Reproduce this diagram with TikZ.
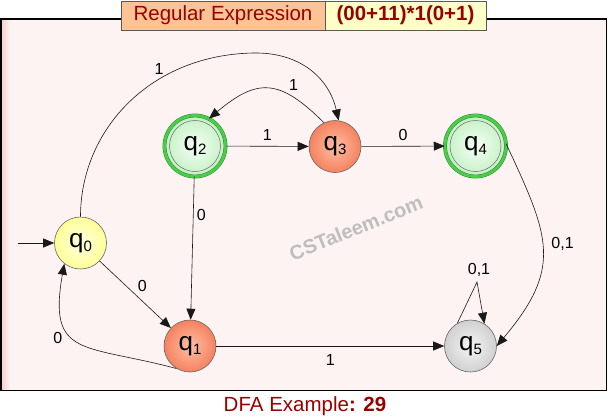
\documentclass[tikz,border=0pt]{standalone}
\usepackage{fontspec}
\setmainfont{Liberation Sans}
\usetikzlibrary{arrows.meta}
\definecolor{dred}{RGB}{153,0,0}
\definecolor{bgpink}{RGB}{253,243,243}
\definecolor{edgepink}{RGB}{250,205,205}
\definecolor{boxorange}{RGB}{252,196,148}
\definecolor{boxyellow}{RGB}{255,255,200}
\definecolor{ringgreen}{RGB}{75,205,75}
\definecolor{ringdark}{RGB}{40,140,40}
\definecolor{wmgrey}{RGB}{190,190,190}
\newcommand{\qsub}[1]{q\raisebox{-4pt}{\fontsize{15}{15}\selectfont #1}}
\tikzset{
  arr/.style={-{Triangle[length=11pt,width=9pt]}, line width=0.6pt, draw=black!90},
  statebox/.style={circle, minimum size=52pt, inner sep=0pt, draw=black!60, line width=0.6pt,
    font=\fontsize{26}{26}\selectfont},
  yellowst/.style={statebox, inner color={rgb,255:red,255;green,255;blue,225}, outer color={rgb,255:red,255;green,255;blue,150}},
  orangest/.style={statebox, inner color={rgb,255:red,255;green,190;blue,165}, outer color={rgb,255:red,244;green,130;blue,95}},
  greyst/.style={statebox, inner color={rgb,255:red,245;green,245;blue,245}, outer color={rgb,255:red,208;green,208;blue,208}},
  accst/.style={statebox, minimum size=61pt, draw=ringdark, double=ringgreen, double distance=2.8pt, line width=0.5pt,
    inner color={rgb,255:red,245;green,255;blue,245}, outer color={rgb,255:red,195;green,240;blue,195}},
  lbl/.style={font=\fontsize{16}{16}\selectfont, inner sep=1pt, text=black},
  titlebox/.style={draw=black!65, line width=0.8pt, minimum height=29pt, inner sep=0pt, text=dred,
    font=\fontsize{20.5}{20.5}\selectfont},
}
\begin{document}
\begin{tikzpicture}[x=1pt,y=-1pt]
\useasboundingbox (0,0) rectangle (608,418);
% frame
\fill[bgpink] (1,19) rectangle (606.5,390.5);
\shade[left color=edgepink, right color=bgpink] (1,19) rectangle (10,390.5);
\draw[line width=1.2pt] (1,19) rectangle (606.5,390.5);
% title
\node[titlebox, fill=boxorange, minimum width=204pt] (t1) at (223,15.5) {Regular Expression};
\node[titlebox, fill=boxyellow, minimum width=161pt, font=\fontsize{20.5}{20.5}\selectfont\bfseries] (t2) at (405.5,15.5) {(00+11)*1(0+1)};
% watermark
\node[text=wmgrey, font=\fontsize{20}{20}\selectfont\bfseries, rotate=22] (wm) at (356,228) {CSTaleem.com};
% states
\node[yellowst] (q0) at (80.5,243) {\qsub{0}};
\node[orangest] (q1) at (190,346) {\qsub{1}};
\node[accst] (q2) at (195,146) {};
\draw[black!60, line width=0.5pt] (q2.center) circle (25.5);
\node[font=\fontsize{26}{26}\selectfont] (q2t) at (q2.center) {\qsub{2}};
\node[orangest] (q3) at (335,146.5) {\qsub{3}};
\node[accst] (q4) at (475.5,146) {};
\draw[black!60, line width=0.5pt] (q4.center) circle (25.5);
\node[font=\fontsize{26}{26}\selectfont] (q4t) at (q4.center) {\qsub{4}};
\node[greyst] (q5) at (470.5,346) {\qsub{5}};
% start
\coordinate (s) at (18,243);
\draw[arr] (s) -- (q0);
% edges
\draw[arr] (q0) -- (q1) node[lbl, midway, xshift=7pt, yshift=9pt] {0};
\draw[arr] (q1.239) to[out=165, in=260, looseness=1.6] node[lbl, pos=0.6, xshift=-12pt, yshift=-4pt] {0} (q0.232);
\draw[arr] (q0.90) .. controls (80.5,130) and (150,55) .. (253,53) node[lbl, pos=0.72, xshift=-16pt, yshift=2pt] {1}
   .. controls (300,52) and (329,78) .. (q3.82);
\draw[arr] (q3.115) to[out=135, in=40, looseness=1.4] node[lbl, pos=0.3, xshift=5pt, yshift=9pt] {1} (q2.63);
\draw[arr] (q2) -- (q3) node[lbl, midway, yshift=11pt] {1};
\draw[arr] (q3) -- (q4) node[lbl, midway, yshift=11pt] {0};
\draw[arr] (q2) -- (q1) node[lbl, pos=0.27, xshift=8pt] {0};
\draw[arr] (q1) -- (q5) node[lbl, midway, yshift=-14pt] {1};
\draw[arr] (q4.4) to[out=-65, in=50, looseness=1.3] node[lbl, pos=0.5, xshift=20pt, yshift=6pt] {0,1} (q5.0);
\coordinate (lp) at (477,282);
\draw[arr] (q5.120) -- (lp) -- (q5.58);
\node[lbl, anchor=south] (lpl) at (479,278) {0,1};
% caption
\node[text=dred, font=\fontsize{20.5}{20.5}\selectfont] (cap) at (305,406) {DFA Example\textbf{: 29}};
\end{tikzpicture}
\end{document}
